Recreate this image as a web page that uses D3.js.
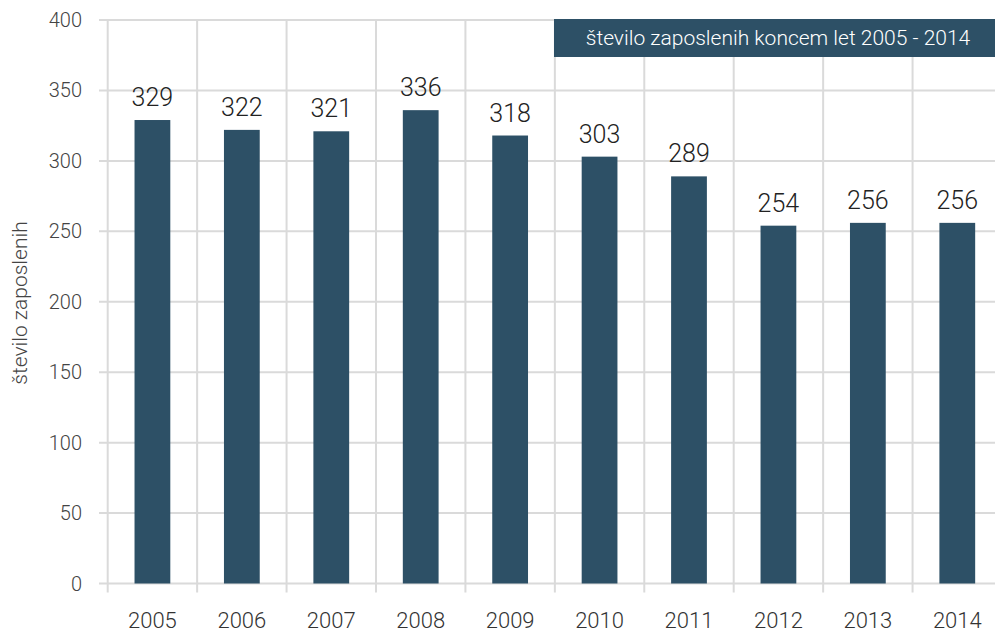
<!DOCTYPE html>
<html>
<head>
<meta charset="utf-8">
<script src="https://cdn.jsdelivr.net/npm/d3@7"></script>
<style>
body { margin: 0; background: #fff; }
text { font-family: Roboto, "DejaVu Sans", sans-serif; font-weight: 300; }
</style>
</head>
<body>
<svg id="chart" width="995" height="633"></svg>
<script>
"use strict";

const years = ["2005", "2006", "2007", "2008", "2009", "2010", "2011", "2012", "2013", "2014"];
const employees = [329, 322, 321, 336, 318, 303, 289, 254, 256, 256];
const yTicks = [0, 50, 100, 150, 200, 250, 300, 350, 400];
const title = "število zaposlenih koncem let 2005 - 2014";
const yLabel = "število zaposlenih";

(() => {
	const svg = d3.select("#chart");
	const barColor = "#2d5066";
	const gridColor = "#dadada";

	// plot runs a bit past the right edge, like the original
	const x = d3.scaleBand().domain(years).range([107.7, 1002]).padding(0);
	const y = d3.scaleLinear().domain([0, 400]).range([583.5, 20]);

	// horizontal grid
	svg.append("g")
		.selectAll("line")
		.data(yTicks).enter()
		.append("line")
		.attr("x1", 99)
		.attr("x2", 1002)
		.attr("y1", d => y(d))
		.attr("y2", d => y(d))
		.attr("stroke", gridColor)
		.attr("stroke-width", 2);

	// vertical grid at category boundaries (with small ticks below)
	svg.append("g")
		.selectAll("line")
		.data(years).enter()
		.append("line")
		.attr("x1", d => x(d))
		.attr("x2", d => x(d))
		.attr("y1", y(400))
		.attr("y2", y(0) + 9)
		.attr("stroke", gridColor)
		.attr("stroke-width", 2);

	// y tick labels
	svg.append("g")
		.selectAll("text")
		.data(yTicks).enter()
		.append("text")
		.attr("x", 82)
		.attr("y", d => y(d))
		.attr("dy", "0.35em")
		.attr("text-anchor", "end")
		.attr("font-size", 20)
		.attr("fill", "#444")
		.text(d => d);

	// x labels
	svg.append("g")
		.selectAll("text")
		.data(years).enter()
		.append("text")
		.attr("x", d => x(d) + x.bandwidth() / 2)
		.attr("y", 628)
		.attr("text-anchor", "middle")
		.attr("font-size", 22)
		.attr("fill", "#333")
		.text(d => d);

	const bw = x.bandwidth() * 0.4;

	svg.append("g")
		.selectAll("rect")
		.data(employees).enter()
		.append("rect")
		.attr("x", (d, i) => x(years[i]) + x.bandwidth() / 2 - bw / 2)
		.attr("y", d => y(d))
		.attr("width", bw)
		.attr("height", d => y(0) - y(d))
		.attr("fill", barColor);

	// value labels
	svg.append("g")
		.selectAll("text")
		.data(employees).enter()
		.append("text")
		.attr("x", (d, i) => x(years[i]) + x.bandwidth() / 2)
		.attr("y", d => y(d) - 14)
		.attr("text-anchor", "middle")
		.attr("font-size", 25)
		.attr("fill", "#222")
		.text(d => d);

	// y axis title
	svg.append("text")
		.attr("transform", "translate(27,303) rotate(-90)")
		.attr("text-anchor", "middle")
		.attr("font-size", 21)
		.attr("fill", "#444")
		.text(yLabel);

	// title box
	svg.append("rect")
		.attr("x", 554)
		.attr("y", 19)
		.attr("width", 448)
		.attr("height", 38)
		.attr("fill", barColor);

	svg.append("text")
		.attr("x", 778)
		.attr("y", 38)
		.attr("dy", "0.35em")
		.attr("text-anchor", "middle")
		.attr("font-size", 21)
		.attr("fill", "#fff")
		.text(title);
})();
</script>
</body>
</html>
